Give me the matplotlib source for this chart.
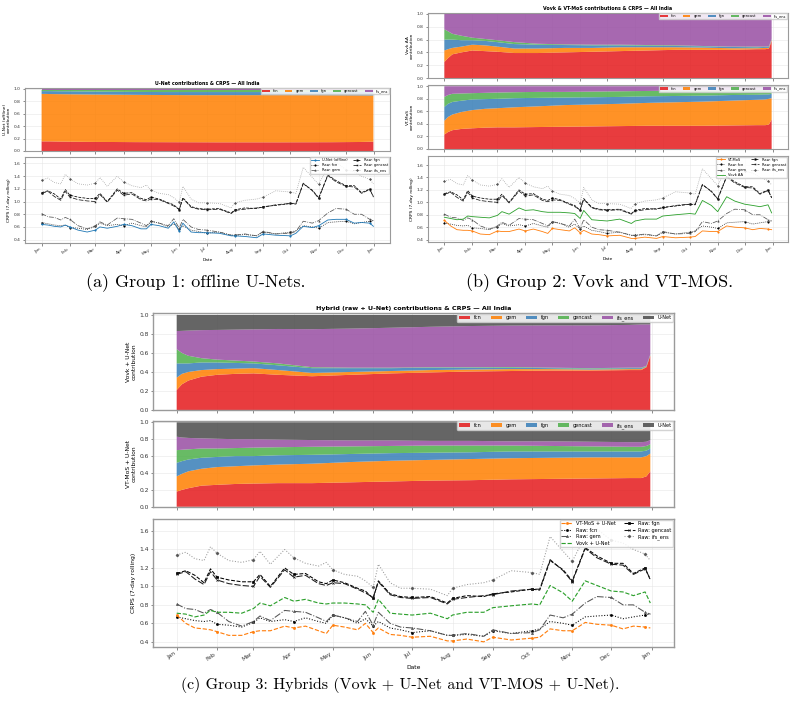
import matplotlib
matplotlib.use("Agg")
import matplotlib.pyplot as plt
import matplotlib.dates as mdates
import numpy as np
import pandas as pd

# ---- CRPS series (7-day rolling), read at these dates ----
crps_days = ["01-01", "01-08", "01-15", "01-22", "01-27", "02-01", "02-10", "02-20",
             "03-01", "03-06", "03-14", "03-25", "04-01", "04-10", "04-20", "04-26",
             "05-01", "05-10", "05-20", "05-26", "06-01", "06-05", "06-14", "06-22",
             "07-01", "07-15", "07-28", "08-01", "08-12", "08-25", "09-01", "09-15",
             "10-01", "10-07", "10-15", "10-25", "11-01", "11-11", "11-20", "12-01",
             "12-10", "12-18", "12-27", "12-31"]
mark_idx = [0, 5, 8, 12, 16, 20, 24, 27, 30, 32, 36, 39, 42]

raw_fcn = [0.67, 0.65, 0.63, 0.62, 0.63, 0.59, 0.58, 0.56, 0.61, 0.66, 0.62, 0.64, 0.62, 0.66, 0.62,
           0.60, 0.69, 0.66, 0.60, 0.65, 0.57, 0.62, 0.55, 0.53, 0.50, 0.52, 0.47, 0.47, 0.48, 0.46,
           0.52, 0.49, 0.52, 0.54, 0.62, 0.60, 0.58, 0.67, 0.68, 0.69, 0.65, 0.67, 0.69, 0.70]
raw_gem = [0.81, 0.76, 0.75, 0.71, 0.75, 0.72, 0.62, 0.57, 0.62, 0.68, 0.63, 0.74, 0.73, 0.72, 0.66,
           0.62, 0.69, 0.66, 0.62, 0.73, 0.58, 0.72, 0.60, 0.56, 0.55, 0.52, 0.47, 0.47, 0.49, 0.46,
           0.53, 0.49, 0.50, 0.53, 0.69, 0.66, 0.70, 0.82, 0.89, 0.88, 0.80, 0.80, 0.72, 0.70]
raw_fgn = [1.14, 1.17, 1.12, 1.04, 1.19, 1.10, 1.07, 1.05, 1.05, 1.13, 1.00, 1.20, 1.13, 1.14, 1.05,
           1.03, 1.07, 1.04, 0.98, 0.95, 0.87, 1.06, 0.92, 0.89, 0.88, 0.89, 0.82, 0.87, 0.90, 0.89,
           0.92, 0.94, 0.97, 0.96, 1.28, 1.18, 1.06, 1.42, 1.33, 1.25, 1.25, 1.14, 1.20, 1.07]
raw_gencast = [1.13, 1.16, 1.08, 1.02, 1.16, 1.07, 1.03, 1.01, 1.00, 1.11, 0.99, 1.18, 1.10, 1.12, 1.03,
               1.01, 1.04, 1.03, 0.97, 0.93, 0.88, 1.05, 0.91, 0.88, 0.87, 0.88, 0.81, 0.86, 0.88, 0.90,
               0.91, 0.95, 0.97, 0.97, 1.29, 1.17, 1.05, 1.41, 1.31, 1.24, 1.23, 1.13, 1.19, 1.08]
raw_ifs = [1.34, 1.37, 1.30, 1.28, 1.43, 1.36, 1.28, 1.26, 1.29, 1.38, 1.24, 1.40, 1.31, 1.25, 1.22,
           1.26, 1.18, 1.13, 1.11, 1.06, 0.99, 1.24, 1.04, 0.98, 0.98, 0.97, 0.90, 0.98, 1.02, 1.04,
           1.07, 1.17, 1.15, 1.13, 1.54, 1.38, 1.27, 1.55, 1.62, 1.50, 1.47, 1.40, 1.35, 1.28]
unet = [0.64, 0.63, 0.61, 0.60, 0.63, 0.60, 0.55, 0.52, 0.55, 0.60, 0.58, 0.61, 0.64, 0.62, 0.57,
        0.57, 0.64, 0.62, 0.58, 0.68, 0.53, 0.66, 0.52, 0.51, 0.51, 0.50, 0.46, 0.46, 0.45, 0.43,
        0.49, 0.47, 0.46, 0.50, 0.61, 0.59, 0.62, 0.71, 0.72, 0.72, 0.66, 0.67, 0.66, 0.61]
vtmos = [0.71, 0.62, 0.56, 0.55, 0.55, 0.54, 0.49, 0.48, 0.54, 0.53, 0.53, 0.57, 0.54, 0.57, 0.53,
         0.50, 0.58, 0.56, 0.54, 0.59, 0.51, 0.55, 0.49, 0.48, 0.46, 0.47, 0.42, 0.42, 0.44, 0.42,
         0.45, 0.43, 0.44, 0.45, 0.54, 0.53, 0.53, 0.62, 0.60, 0.59, 0.56, 0.58, 0.57, 0.56]
vovk = [0.76, 0.74, 0.72, 0.73, 0.78, 0.77, 0.76, 0.75, 0.79, 0.85, 0.81, 0.91, 0.87, 0.88, 0.85,
        0.84, 0.84, 0.84, 0.83, 0.82, 0.74, 0.87, 0.72, 0.71, 0.70, 0.73, 0.66, 0.70, 0.73, 0.73,
        0.78, 0.80, 0.82, 0.81, 1.03, 0.95, 0.85, 1.09, 1.02, 0.97, 0.95, 0.93, 0.96, 0.83]
vovk_unet = [0.71, 0.70, 0.67, 0.69, 0.74, 0.72, 0.72, 0.71, 0.76, 0.82, 0.79, 0.88, 0.84, 0.86, 0.82,
             0.81, 0.82, 0.82, 0.81, 0.80, 0.72, 0.86, 0.71, 0.70, 0.69, 0.71, 0.65, 0.69, 0.72, 0.72,
             0.77, 0.79, 0.81, 0.80, 1.01, 0.93, 0.84, 1.06, 1.01, 0.95, 0.94, 0.90, 0.94, 0.82]
vtmos_unet = [0.69, 0.60, 0.55, 0.54, 0.53, 0.51, 0.47, 0.47, 0.51, 0.52, 0.52, 0.57, 0.55, 0.57, 0.52,
              0.49, 0.58, 0.56, 0.53, 0.60, 0.50, 0.55, 0.48, 0.47, 0.45, 0.46, 0.41, 0.41, 0.43, 0.40,
              0.45, 0.42, 0.44, 0.45, 0.54, 0.52, 0.52, 0.61, 0.59, 0.58, 0.54, 0.57, 0.56, 0.55]

# ---- contribution weights: cumulative tops of each stacked layer ----
wt_days = ["01-01", "01-05", "01-10", "01-20", "02-01", "02-15", "03-01", "03-20", "04-15", "05-15",
           "06-15", "07-15", "08-15", "09-15", "10-15", "11-15", "12-15", "12-24", "12-28", "12-31"]

members = ["fcn", "gem", "fgn", "gencast", "ifs_ens"]
member_colors = ["#e41a1c", "#ff7f00", "#377eb8", "#4daf4a", "#984ea3"]
unet_color = "#4a4a4a"

# U-Net (offline)
a_fcn = [0.155, 0.155, 0.155, 0.152, 0.15, 0.148, 0.146, 0.145, 0.143, 0.142,
         0.141, 0.14, 0.14, 0.14, 0.141, 0.142, 0.145, 0.148, 0.15, 0.15]
a_gem = [0.92, 0.92, 0.918, 0.916, 0.914, 0.912, 0.91, 0.908, 0.905, 0.902,
         0.90, 0.90, 0.90, 0.90, 0.90, 0.898, 0.896, 0.895, 0.895, 0.895]
a_fgn = [0.965, 0.965, 0.965, 0.963, 0.962, 0.96, 0.958, 0.955, 0.952, 0.95,
         0.95, 0.95, 0.95, 0.95, 0.955, 0.958, 0.96, 0.962, 0.962, 0.962]
a_gencast = [0.985] * 20
a_ifs = [1.0] * 20

# Vovk AA
b1_fcn = [0.25, 0.31, 0.37, 0.40, 0.43, 0.42, 0.41, 0.39, 0.39, 0.40,
          0.41, 0.42, 0.43, 0.44, 0.44, 0.44, 0.45, 0.45, 0.46, 0.58]
b1_gem = [0.43, 0.45, 0.47, 0.49, 0.52, 0.51, 0.49, 0.46, 0.46, 0.47,
          0.47, 0.48, 0.48, 0.48, 0.475, 0.465, 0.465, 0.47, 0.47, 0.595]
b1_fgn = [0.60, 0.60, 0.60, 0.59, 0.59, 0.58, 0.56, 0.53, 0.52, 0.515,
          0.51, 0.51, 0.505, 0.50, 0.495, 0.485, 0.48, 0.485, 0.485, 0.605]
b1_gencast = [0.76, 0.73, 0.69, 0.66, 0.63, 0.61, 0.59, 0.56, 0.535, 0.525,
              0.52, 0.52, 0.515, 0.51, 0.50, 0.49, 0.49, 0.49, 0.495, 0.61]
b1_ifs = [1.0] * 20

# VT-MoS
b2_fcn = [0.23, 0.27, 0.30, 0.32, 0.33, 0.34, 0.345, 0.345, 0.35, 0.355,
          0.36, 0.365, 0.37, 0.37, 0.37, 0.375, 0.38, 0.38, 0.39, 0.47]
b2_gem = [0.45, 0.51, 0.55, 0.59, 0.62, 0.64, 0.65, 0.665, 0.68, 0.70,
          0.71, 0.72, 0.735, 0.745, 0.755, 0.77, 0.785, 0.79, 0.80, 0.81]
b2_fgn = [0.67, 0.72, 0.75, 0.77, 0.79, 0.795, 0.80, 0.81, 0.815, 0.82,
          0.825, 0.83, 0.84, 0.845, 0.85, 0.86, 0.865, 0.87, 0.87, 0.88]
b2_gencast = [0.83, 0.86, 0.88, 0.885, 0.89, 0.895, 0.90, 0.905, 0.91, 0.91,
              0.915, 0.92, 0.925, 0.93, 0.93, 0.935, 0.94, 0.94, 0.945, 0.95]
b2_ifs = [1.0] * 20

# Vovk + U-Net
c1_fcn = [0.21, 0.27, 0.31, 0.35, 0.37, 0.38, 0.385, 0.37, 0.355, 0.37,
          0.385, 0.395, 0.405, 0.41, 0.415, 0.415, 0.42, 0.42, 0.45, 0.57]
c1_gem = [0.34, 0.38, 0.40, 0.42, 0.43, 0.435, 0.44, 0.42, 0.39, 0.40,
          0.41, 0.42, 0.425, 0.43, 0.43, 0.425, 0.43, 0.43, 0.455, 0.575]
c1_fgn = [0.49, 0.49, 0.49, 0.50, 0.50, 0.495, 0.49, 0.47, 0.44, 0.44,
          0.44, 0.445, 0.445, 0.445, 0.44, 0.435, 0.44, 0.44, 0.46, 0.58]
c1_gencast = [0.64, 0.60, 0.57, 0.545, 0.53, 0.52, 0.51, 0.49, 0.45, 0.445,
              0.445, 0.45, 0.45, 0.452, 0.445, 0.44, 0.445, 0.445, 0.465, 0.585]
c1_ifs = [0.83, 0.832, 0.835, 0.84, 0.842, 0.845, 0.848, 0.852, 0.85, 0.856,
          0.865, 0.875, 0.883, 0.888, 0.89, 0.89, 0.895, 0.9, 0.9, 0.9]
c1_unet = [1.0] * 20

# VT-MoS + U-Net
c2_fcn = [0.18, 0.20, 0.22, 0.25, 0.26, 0.27, 0.275, 0.28, 0.28, 0.29,
          0.30, 0.31, 0.315, 0.325, 0.33, 0.335, 0.34, 0.34, 0.36, 0.42]
c2_gem = [0.36, 0.39, 0.42, 0.45, 0.47, 0.48, 0.49, 0.50, 0.51, 0.53,
          0.545, 0.555, 0.565, 0.575, 0.58, 0.585, 0.585, 0.585, 0.60, 0.63]
c2_fgn = [0.52, 0.54, 0.56, 0.58, 0.59, 0.60, 0.60, 0.61, 0.615, 0.625,
          0.635, 0.64, 0.645, 0.655, 0.655, 0.655, 0.655, 0.655, 0.665, 0.69]
c2_gencast = [0.67, 0.675, 0.68, 0.69, 0.69, 0.695, 0.70, 0.705, 0.71, 0.715,
              0.72, 0.725, 0.725, 0.725, 0.72, 0.715, 0.71, 0.71, 0.72, 0.74]
c2_ifs = [0.83, 0.82, 0.815, 0.81, 0.805, 0.80, 0.80, 0.795, 0.79, 0.785,
          0.785, 0.78, 0.78, 0.775, 0.775, 0.77, 0.765, 0.765, 0.77, 0.79]
c2_unet = [1.0] * 20

crps_dates = pd.to_datetime(["2023-" + d for d in crps_days])
wt_dates = pd.to_datetime(["2023-" + d for d in wt_days])

plt.rcParams['font.family'] = 'DejaVu Sans'
fig = plt.figure(figsize=(8, 7.02), dpi=100)


def box(l, t, r, b):
    return fig.add_axes([l / 800, 1 - b / 702, (r - l) / 800, (b - t) / 702])


def style_axes(ax, fs, lw):
    ax.grid(True, color='#e6e6e6', lw=0.4)
    ax.set_axisbelow(True)
    for s in ax.spines.values():
        s.set_color('#9a9a9a')
        s.set_linewidth(lw)
    ax.tick_params(labelsize=fs, length=1.8, width=0.4, pad=1.2, colors='#333333')
    ax.xaxis.set_major_locator(mdates.MonthLocator())
    ax.xaxis.set_major_formatter(mdates.DateFormatter('%b'))


def stack_panel(ax, tops, labels, colors, ylabel, fs, lfs):
    tops = np.array(tops)
    layers = np.diff(np.vstack([np.zeros(tops.shape[1]), tops]), axis=0)
    ax.stackplot(wt_dates, layers, labels=labels, colors=colors, alpha=0.85, lw=0)
    ax.set_ylim(0, 1.02)
    ax.set_yticks(np.arange(0, 1.01, 0.2))
    ax.set_ylabel(ylabel, fontsize=fs, labelpad=2)
    ax.tick_params(axis='x', labelbottom=False)
    ax.legend(loc='upper right', ncol=len(labels), fontsize=lfs, handlelength=2.2,
              borderpad=0.3, columnspacing=1.8, handletextpad=0.8, framealpha=0.85,
              edgecolor='#cccccc', borderaxespad=0.15)


raw_specs = [
    ("Raw: fcn", raw_fcn, dict(color='black', ls=':', marker='o')),
    ("Raw: gem", raw_gem, dict(color='#555555', ls='-.', marker='^')),
    ("Raw: fgn", raw_fgn, dict(color='black', ls='--', marker='s')),
    ("Raw: gencast", raw_gencast, dict(color='#1a1a1a', ls=(0, (6, 2)), marker='x')),
    ("Raw: ifs_ens", raw_ifs, dict(color='#9a9a9a', ls=':', marker='D', mfc='#555555', mec='#555555')),
]


def crps_panel(ax, first, second, ylim, fs, lfs, lw, ms):
    handles = {}
    for name, vals, st in raw_specs:
        handles[name], = ax.plot(crps_dates, vals, lw=lw, ms=ms, mew=0.5, markevery=mark_idx,
                                 label=name, **st)
    name, vals, st = first
    h1, = ax.plot(crps_dates, vals, lw=lw * 1.1, ms=ms, mew=0.5, markevery=mark_idx, label=name,
                  zorder=5, **st)
    h2 = None
    if second is not None:
        name2, vals2, st2 = second
        h2, = ax.plot(crps_dates, vals2, lw=lw * 1.1, label=name2, zorder=4, **st2)
    order = [h1, handles["Raw: fcn"], handles["Raw: gem"]]
    if h2 is not None:
        order.append(h2)
    order += [handles["Raw: fgn"], handles["Raw: gencast"], handles["Raw: ifs_ens"]]
    ax.legend(handles=order, loc='upper right', ncol=2, fontsize=lfs, handlelength=2.2,
              borderpad=0.3, labelspacing=0.3, columnspacing=1.5, framealpha=0.85,
              edgecolor='#cccccc', borderaxespad=0.15)
    ax.set_ylim(*ylim)
    ax.set_yticks(np.arange(0.4, 1.61, 0.2))
    ax.set_ylabel("CRPS (7-day rolling)", fontsize=fs, labelpad=2)
    ax.set_xlabel("Date", fontsize=fs, labelpad=2)
    for lab in ax.get_xticklabels():
        lab.set_rotation(35)
        lab.set_ha('right')


# ---- (a) offline U-Net ----
a1 = box(25, 87.7, 390, 151)
a2 = box(25, 156.7, 390, 243)
for ax in (a1, a2):
    style_axes(ax, 3.2, 0.8)
a2.sharex(a1)
stack_panel(a1, [a_fcn, a_gem, a_fgn, a_gencast, a_ifs], members, member_colors,
            "U-Net (offline)\ncontribution", 3.2, 2.6)
a1.set_title("U-Net contributions & CRPS \u2014 All India", fontsize=3.4, fontweight='bold', pad=2)
crps_panel(a2, ("U-Net (offline)", unet, dict(color='#1f77b4', ls='-', marker='o')), None,
           (0.347, 1.707), 3.2, 2.6, 0.55, 1.0)

# ---- (b) Vovk & VT-MoS ----
b1 = box(428, 12.7, 788, 78)
b2 = box(428, 85, 788, 149)
b3 = box(428, 156, 788, 242)
for ax in (b1, b2, b3):
    style_axes(ax, 3.2, 0.8)
b2.sharex(b1)
b3.sharex(b1)
stack_panel(b1, [b1_fcn, b1_gem, b1_fgn, b1_gencast, b1_ifs], members, member_colors,
            "Vovk AA\ncontribution", 3.2, 2.6)
b1.set_title("Vovk & VT-MoS contributions & CRPS \u2014 All India", fontsize=3.4, fontweight='bold', pad=2)
stack_panel(b2, [b2_fcn, b2_gem, b2_fgn, b2_gencast, b2_ifs], members, member_colors,
            "VT-MoS\ncontribution", 3.2, 2.6)
crps_panel(b3, ("VT-MoS", vtmos, dict(color='#ff7f0e', ls='-', marker='o')),
           ("Vovk AA", vovk, dict(color='#2ca02c', ls='-')),
           (0.362, 1.745), 3.2, 2.6, 0.55, 1.0)

# ---- (c) hybrids ----
c1 = box(153, 313, 674, 410)
c2 = box(153, 420.6, 674, 506.8)
c3 = box(153, 518.8, 674, 647)
for ax in (c1, c2, c3):
    style_axes(ax, 4.3, 1.0)
c2.sharex(c1)
c3.sharex(c1)
stack_panel(c1, [c1_fcn, c1_gem, c1_fgn, c1_gencast, c1_ifs, c1_unet], members + ["U-Net"],
            member_colors + [unet_color], "Vovk + U-Net\ncontribution", 4.3, 3.6)
c1.set_title("Hybrid (raw + U-Net) contributions & CRPS \u2014 All India", fontsize=4.6,
             fontweight='bold', pad=2.5)
stack_panel(c2, [c2_fcn, c2_gem, c2_fgn, c2_gencast, c2_ifs, c2_unet], members + ["U-Net"],
            member_colors + [unet_color], "VT-MoS + U-Net\ncontribution", 4.3, 3.6)
crps_panel(c3, ("VT-MoS + U-Net", vtmos_unet, dict(color='#ff7f0e', ls='--', marker='o')),
           ("Vovk + U-Net", vovk_unet, dict(color='#2ca02c', ls='--')),
           (0.344, 1.732), 4.3, 3.6, 0.75, 1.5)

# ---- captions ----
cap = dict(family='cmr10', ha='center', va='center')
fig.text(196 / 800, 1 - 283 / 702, "(a) Group 1: offline U-Nets.", fontsize=13, **cap)
fig.text(600 / 800, 1 - 283 / 702, "(b) Group 2: Vovk and VT-MOS.", fontsize=13, **cap)
fig.text(400 / 800, 1 - 685 / 702, "(c) Group 3: Hybrids (Vovk + U-Net and VT-MOS + U-Net).",
         fontsize=11.5, **cap)

fig.savefig("out.png", dpi=100)
